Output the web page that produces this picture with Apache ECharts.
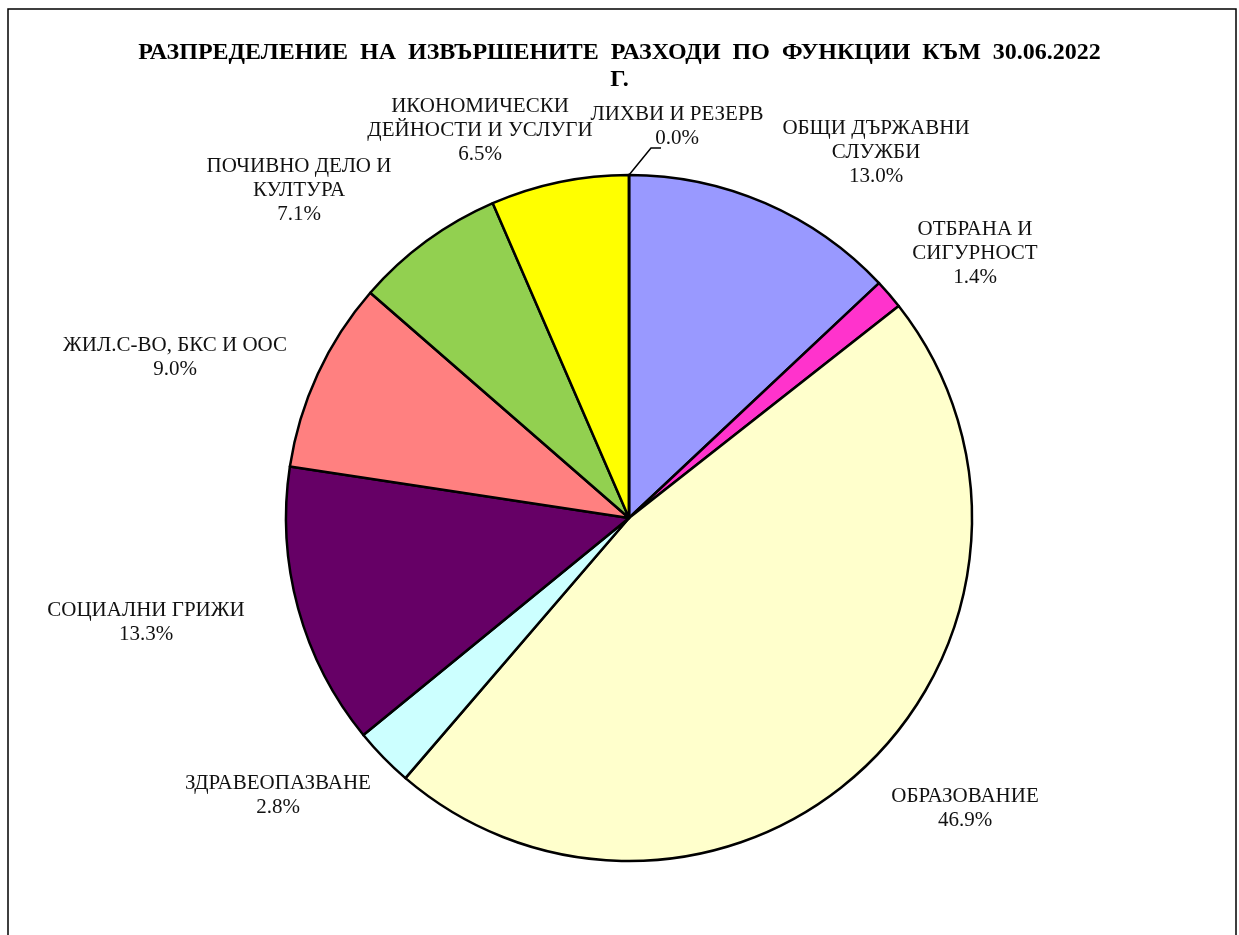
<!DOCTYPE html>
<html>
<head>
<meta charset="utf-8">
<script src="https://cdn.jsdelivr.net/npm/echarts@6/dist/echarts.min.js"></script>
<style>
    html, body { margin: 0; padding: 0; background: #fff; }
    #pie { width: 1239px; height: 935px; }
</style>
</head>
<body>
<div id="pie"></div>
<script>
// функции (по часовниковата стрелка от 12 часа)
const names = [
    'ОБЩИ ДЪРЖАВНИ\nСЛУЖБИ',
    'ОТБРАНА И\nСИГУРНОСТ',
    'ОБРАЗОВАНИЕ',
    'ЗДРАВЕОПАЗВАНЕ',
    'СОЦИАЛНИ ГРИЖИ',
    'ЖИЛ.С-ВО, БКС И ООС',
    'ПОЧИВНО ДЕЛО И\nКУЛТУРА',
    'ИКОНОМИЧЕСКИ\nДЕЙНОСТИ И УСЛУГИ',
    'ЛИХВИ И РЕЗЕРВ'
];
const shares = [13.0, 1.4, 46.9, 2.8, 13.3, 9.0, 7.1, 6.5, 0.0];
const colors = ['#9999FF', '#FF33CC', '#FFFFCC', '#CCFFFF', '#660066', '#FF8080', '#92D050', '#FFFF00', '#FFFFFF'];

// позиции на етикетите (център на текста)
const labelPos = [
    [876, 152], [975, 253], [965, 808], [278, 795], [146, 622],
    [175, 357], [299, 190], [480, 130], [677, 126]
];

const cx = 629, cy = 518, r = 343;

let myChart = echarts.init(document.getElementById('pie'));

let option = {
    backgroundColor: '#fff',
    animation: false,
    title: {
        text: 'РАЗПРЕДЕЛЕНИЕ  НА  ИЗВЪРШЕНИТЕ  РАЗХОДИ  ПО  ФУНКЦИИ  КЪМ  30.06.2022\nГ.',
        left: 'center',
        top: 34,
        textStyle: {
            fontFamily: 'Liberation Serif',
            fontWeight: 'bold',
            fontSize: 24,
            lineHeight: 27,
            color: '#000'
        }
    },
    graphic: [{
        type: 'rect',
        shape: { x: 8, y: 9, width: 1228, height: 940 },
        style: { fill: 'none', stroke: '#000', lineWidth: 1.5 }
    }],
    series: [{
        type: 'pie',
        center: [cx, cy],
        radius: r,
        startAngle: 90,
        clockwise: true,
        minAngle: 0,
        avoidLabelOverlap: false,
        data: names.map((n, i) => ({
            name: n,
            value: shares[i],
            itemStyle: { color: colors[i] },
            labelLine: { show: i === 8 }
        })),
        itemStyle: { borderColor: '#000', borderWidth: 2.5 },
        label: {
            show: true,
            position: 'outside',
            formatter: p => p.name + '\n' + p.value.toFixed(1) + '%',
            fontFamily: 'Liberation Serif',
            fontSize: 21,
            lineHeight: 24,
            color: '#111',
            align: 'center'
        },
        labelLine: {
            show: false,
            lineStyle: { color: '#000', width: 1.5 }
        },
        labelLayout: function (params) {
            let p = labelPos[params.dataIndex];
            let out = { x: p[0], y: p[1], align: 'center', verticalAlign: 'middle' };
            if (params.dataIndex === 8) {
                out.labelLinePoints = [[cx, cy - r], [cx + 22, cy - r - 27], [cx + 32, cy - r - 27]];
            }
            return out;
        }
    }]
};

myChart.setOption(option);
</script>
</body>
</html>
